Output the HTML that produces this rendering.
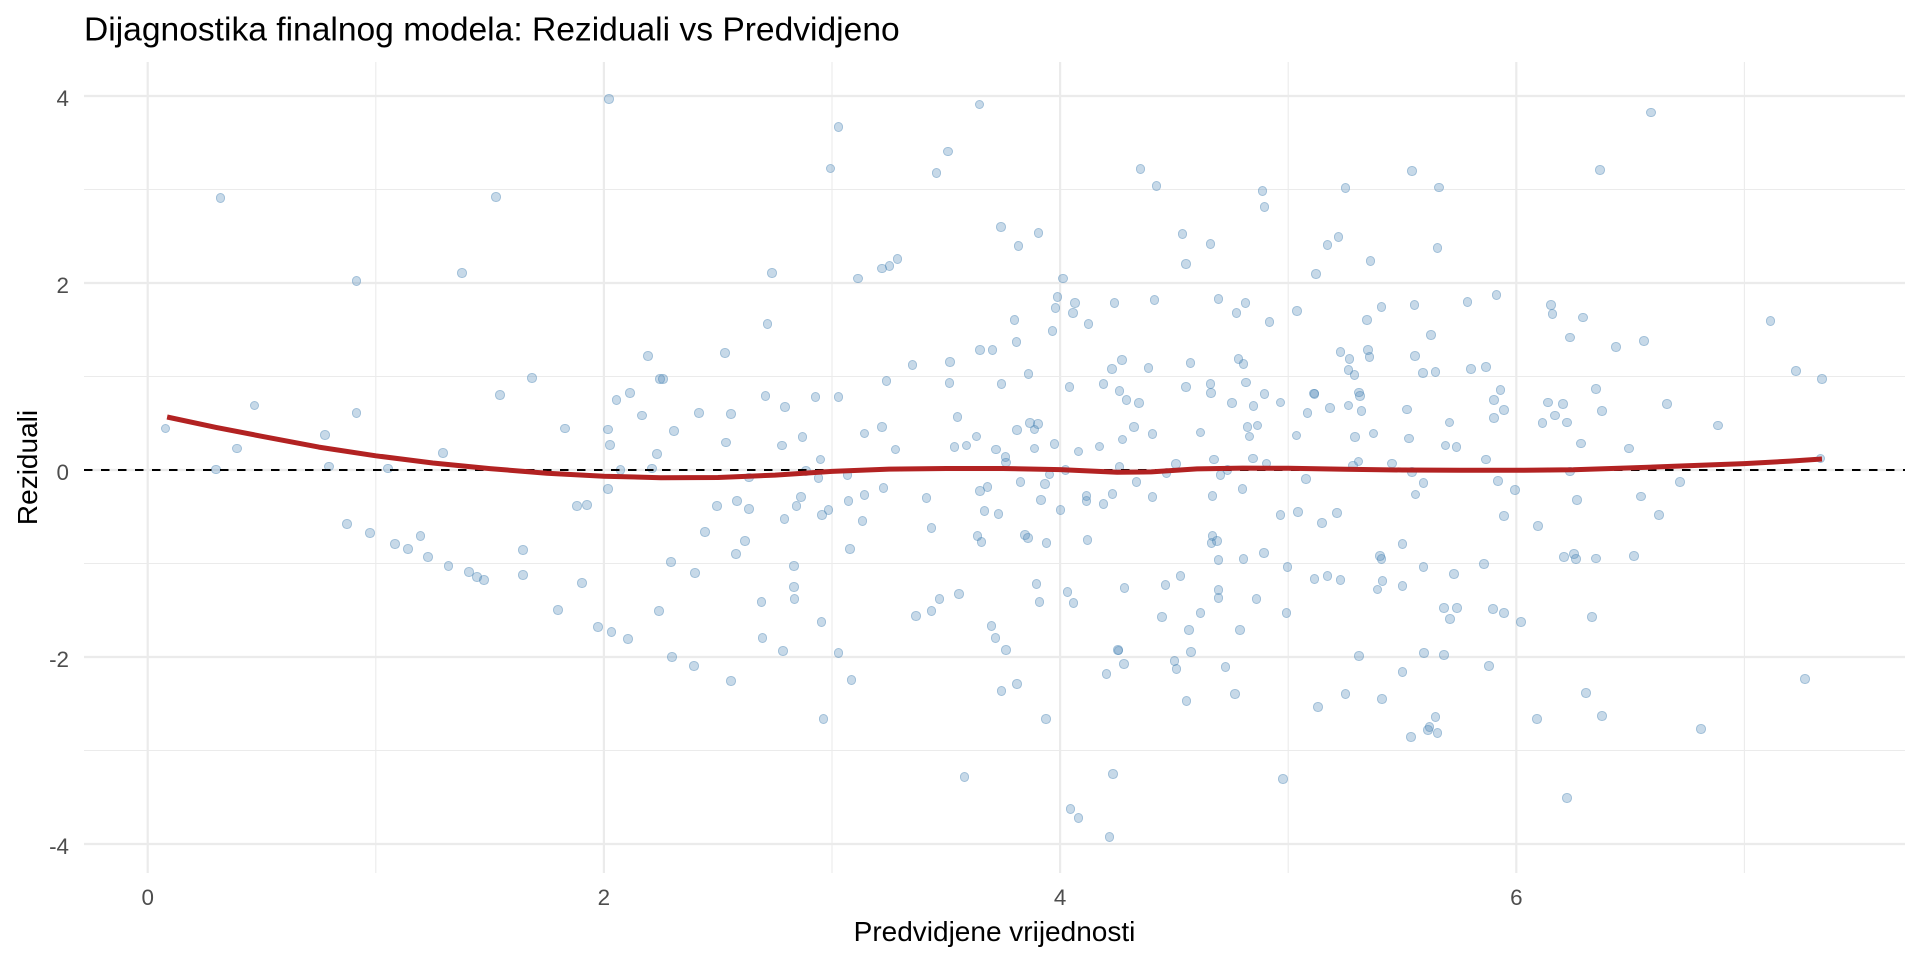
<!DOCTYPE html>
<html>
<head>
<meta charset="utf-8">
<style>
html,body{margin:0;padding:0;background:#fff;}
#wrap{position:relative;width:1920px;height:960px;overflow:hidden;background:#fff;}
svg{position:absolute;left:0;top:0;}
#pts i{position:absolute;display:block;box-sizing:border-box;width:9.6px;height:9.6px;margin:-4.8px 0 0 -4.8px;border-radius:50%;background:rgba(70,130,180,0.3);border:1.1px solid rgba(70,130,180,0.3);left:calc(147.7px + var(--x) * 228.1px);top:calc(470px - var(--y) * 93.5px);}
text{font-family:"Liberation Sans",Arial,sans-serif;}
</style>
</head>
<body>
<div id="wrap">
<svg width="1920" height="960" viewBox="0 0 1920 960">
  <!-- minor grid -->
  <g stroke="#EBEBEB" stroke-width="1.1" fill="none">
    <line x1="84" x2="1905" y1="189.5" y2="189.5"/>
    <line x1="84" x2="1905" y1="376.5" y2="376.5"/>
    <line x1="84" x2="1905" y1="563.5" y2="563.5"/>
    <line x1="84" x2="1905" y1="750.5" y2="750.5"/>
    <line x1="375.8" x2="375.8" y1="62" y2="873"/>
    <line x1="832" x2="832" y1="62" y2="873"/>
    <line x1="1288.2" x2="1288.2" y1="62" y2="873"/>
    <line x1="1744.4" x2="1744.4" y1="62" y2="873"/>
  </g>
  <!-- major grid -->
  <g stroke="#EBEBEB" stroke-width="2.2" fill="none">
    <line x1="84" x2="1905" y1="96" y2="96"/>
    <line x1="84" x2="1905" y1="283" y2="283"/>
    <line x1="84" x2="1905" y1="470" y2="470"/>
    <line x1="84" x2="1905" y1="657" y2="657"/>
    <line x1="84" x2="1905" y1="844" y2="844"/>
    <line x1="147.7" x2="147.7" y1="62" y2="873"/>
    <line x1="603.9" x2="603.9" y1="62" y2="873"/>
    <line x1="1060.1" x2="1060.1" y1="62" y2="873"/>
    <line x1="1516.3" x2="1516.3" y1="62" y2="873"/>
  </g>
  <!-- title -->
  <text x="84" y="40.5" font-size="33.6" fill="#000">Dijagnostika finalnog modela: Reziduali vs Predvidjeno</text>
  <!-- y tick labels -->
  <g font-size="22.4" fill="#4D4D4D" text-anchor="end">
    <text x="69" y="106">4</text>
    <text x="69" y="293">2</text>
    <text x="69" y="480">0</text>
    <text x="69" y="667">-2</text>
    <text x="69" y="854">-4</text>
  </g>
  <!-- x tick labels -->
  <g font-size="22.4" fill="#4D4D4D" text-anchor="middle">
    <text x="147.7" y="905">0</text>
    <text x="603.9" y="905">2</text>
    <text x="1060.1" y="905">4</text>
    <text x="1516.3" y="905">6</text>
  </g>
  <!-- axis titles -->
  <text x="994.5" y="941" font-size="28" fill="#000" text-anchor="middle">Predvidjene vrijednosti</text>
  <text transform="translate(37,467.5) rotate(-90)" x="0" y="0" font-size="28" fill="#000" text-anchor="middle">Reziduali</text>
</svg>

<div id="pts">
<i style="--x:.319;--y:2.908"></i><i style="--x:1.526;--y:2.919"></i><i style="--x:.916;--y:2.020"></i><i style="--x:1.377;--y:2.105"></i><i style="--x:2.022;--y:3.968"></i><i style="--x:2.193;--y:1.217"></i><i style="--x:2.531;--y:1.249"></i><i style="--x:1.684;--y:.981"></i><i style="--x:2.247;--y:.971"></i><i style="--x:2.259;--y:.971"></i><i style="--x:1.544;--y:.799"></i><i style="--x:2.114;--y:.821"></i><i style="--x:2.056;--y:.746"></i><i style="--x:.469;--y:.692"></i><i style="--x:.916;--y:.607"></i><i style="--x:2.167;--y:.585"></i><i style="--x:2.416;--y:.607"></i><i style="--x:2.556;--y:.596"></i><i style="--x:.078;--y:.446"></i><i style="--x:.776;--y:.375"></i><i style="--x:1.829;--y:.446"></i><i style="--x:2.017;--y:.435"></i><i style="--x:2.307;--y:.418"></i><i style="--x:.391;--y:.232"></i><i style="--x:2.027;--y:.268"></i><i style="--x:2.534;--y:.296"></i><i style="--x:1.294;--y:.182"></i><i style="--x:2.232;--y:.168"></i><i style="--x:.299;--y:.007"></i><i style="--x:.794;--y:.039"></i><i style="--x:1.053;--y:.014"></i><i style="--x:2.072;--y:0"></i><i style="--x:2.212;--y:.014"></i>
<i style="--x:2.017;--y:-.203"></i><i style="--x:1.882;--y:-.385"></i><i style="--x:1.927;--y:-.374"></i><i style="--x:2.495;--y:-.385"></i><i style="--x:2.584;--y:-.332"></i><i style="--x:2.637;--y:-.414"></i><i style="--x:2.637;--y:-.082"></i><i style="--x:.874;--y:-.578"></i><i style="--x:.974;--y:-.674"></i><i style="--x:1.084;--y:-.791"></i><i style="--x:1.142;--y:-.845"></i><i style="--x:1.196;--y:-.706"></i><i style="--x:1.229;--y:-.930"></i><i style="--x:1.319;--y:-1.027"></i><i style="--x:1.408;--y:-1.091"></i><i style="--x:1.444;--y:-1.144"></i><i style="--x:1.474;--y:-1.176"></i><i style="--x:1.645;--y:-.856"></i><i style="--x:1.645;--y:-1.123"></i><i style="--x:2.442;--y:-.663"></i><i style="--x:2.618;--y:-.759"></i><i style="--x:2.578;--y:-.898"></i><i style="--x:2.294;--y:-.984"></i><i style="--x:2.399;--y:-1.102"></i><i style="--x:1.903;--y:-1.209"></i><i style="--x:1.799;--y:-1.497"></i><i style="--x:2.241;--y:-1.508"></i><i style="--x:1.974;--y:-1.679"></i><i style="--x:2.034;--y:-1.733"></i><i style="--x:2.106;--y:-1.807"></i><i style="--x:2.299;--y:-2.0"></i><i style="--x:2.394;--y:-2.096"></i><i style="--x:2.556;--y:-2.257"></i>
<i style="--x:3.029;--y:3.668"></i><i style="--x:2.993;--y:3.226"></i><i style="--x:3.646;--y:3.911"></i><i style="--x:3.508;--y:3.408"></i><i style="--x:3.459;--y:3.176"></i><i style="--x:2.736;--y:2.105"></i><i style="--x:2.717;--y:1.559"></i><i style="--x:3.113;--y:2.048"></i><i style="--x:3.218;--y:2.155"></i><i style="--x:3.252;--y:2.180"></i><i style="--x:3.287;--y:2.255"></i><i style="--x:3.740;--y:2.598"></i><i style="--x:3.817;--y:2.394"></i><i style="--x:3.905;--y:2.533"></i><i style="--x:4.013;--y:2.048"></i><i style="--x:4.352;--y:3.219"></i><i style="--x:4.422;--y:3.037"></i><i style="--x:4.887;--y:2.983"></i><i style="--x:4.896;--y:2.812"></i><i style="--x:5.251;--y:3.015"></i><i style="--x:4.536;--y:2.523"></i><i style="--x:4.659;--y:2.416"></i><i style="--x:4.553;--y:2.202"></i><i style="--x:5.172;--y:2.405"></i><i style="--x:5.220;--y:2.491"></i><i style="--x:5.123;--y:2.095"></i><i style="--x:3.989;--y:1.848"></i><i style="--x:3.980;--y:1.731"></i><i style="--x:4.066;--y:1.784"></i><i style="--x:4.057;--y:1.677"></i><i style="--x:4.238;--y:1.784"></i><i style="--x:4.413;--y:1.816"></i><i style="--x:4.124;--y:1.563"></i><i style="--x:3.800;--y:1.606"></i><i style="--x:3.808;--y:1.367"></i><i style="--x:3.967;--y:1.484"></i><i style="--x:4.695;--y:1.827"></i><i style="--x:4.812;--y:1.784"></i><i style="--x:4.773;--y:1.677"></i><i style="--x:4.918;--y:1.581"></i><i style="--x:5.039;--y:1.699"></i><i style="--x:3.648;--y:1.285"></i><i style="--x:3.704;--y:1.285"></i><i style="--x:3.518;--y:1.153"></i><i style="--x:3.353;--y:1.120"></i><i style="--x:3.515;--y:.928"></i><i style="--x:3.239;--y:.949"></i><i style="--x:3.743;--y:.917"></i><i style="--x:3.861;--y:1.024"></i><i style="--x:4.041;--y:.885"></i><i style="--x:4.191;--y:.921"></i><i style="--x:4.227;--y:1.081"></i><i style="--x:4.271;--y:1.178"></i><i style="--x:4.387;--y:1.088"></i><i style="--x:4.571;--y:1.142"></i><i style="--x:4.782;--y:1.185"></i><i style="--x:4.804;--y:1.131"></i><i style="--x:4.816;--y:.938"></i><i style="--x:5.229;--y:1.260"></i><i style="--x:5.269;--y:1.185"></i><i style="--x:5.264;--y:1.070"></i><i style="--x:2.708;--y:.789"></i><i style="--x:2.794;--y:.671"></i><i style="--x:2.928;--y:.781"></i><i style="--x:3.029;--y:.781"></i><i style="--x:4.260;--y:.842"></i><i style="--x:4.291;--y:.746"></i><i style="--x:4.347;--y:.714"></i><i style="--x:4.553;--y:.885"></i><i style="--x:4.659;--y:.921"></i><i style="--x:4.662;--y:.821"></i><i style="--x:4.754;--y:.714"></i><i style="--x:4.848;--y:.682"></i><i style="--x:4.896;--y:.810"></i><i style="--x:4.966;--y:.724"></i><i style="--x:5.113;--y:.817"></i><i style="--x:5.116;--y:.810"></i><i style="--x:5.184;--y:.660"></i><i style="--x:5.264;--y:.692"></i><i style="--x:5.084;--y:.607"></i><i style="--x:3.551;--y:.567"></i><i style="--x:3.142;--y:.392"></i><i style="--x:3.218;--y:.457"></i><i style="--x:2.780;--y:.264"></i><i style="--x:2.870;--y:.350"></i><i style="--x:2.949;--y:.114"></i><i style="--x:3.278;--y:.221"></i><i style="--x:3.537;--y:.243"></i><i style="--x:3.590;--y:.264"></i><i style="--x:3.633;--y:.360"></i><i style="--x:3.720;--y:.221"></i><i style="--x:3.760;--y:.136"></i><i style="--x:3.764;--y:.082"></i><i style="--x:3.812;--y:.425"></i><i style="--x:3.868;--y:.500"></i><i style="--x:3.888;--y:.435"></i><i style="--x:3.902;--y:.489"></i><i style="--x:3.888;--y:.232"></i><i style="--x:3.975;--y:.275"></i><i style="--x:4.081;--y:.200"></i><i style="--x:4.173;--y:.253"></i><i style="--x:4.274;--y:.328"></i><i style="--x:4.325;--y:.457"></i><i style="--x:4.405;--y:.382"></i><i style="--x:4.615;--y:.403"></i><i style="--x:4.830;--y:.360"></i><i style="--x:4.821;--y:.457"></i><i style="--x:4.865;--y:.478"></i><i style="--x:5.036;--y:.371"></i><i style="--x:4.676;--y:.114"></i><i style="--x:4.845;--y:.125"></i><i style="--x:4.905;--y:.071"></i><i style="--x:4.507;--y:.061"></i><i style="--x:4.260;--y:.029"></i><i style="--x:4.023;--y:0"></i><i style="--x:2.886;--y:-.01"></i>
<i style="--x:2.940;--y:-.086"></i><i style="--x:3.068;--y:-.053"></i><i style="--x:2.864;--y:-.289"></i><i style="--x:2.845;--y:-.385"></i><i style="--x:2.792;--y:-.524"></i><i style="--x:2.957;--y:-.481"></i><i style="--x:2.985;--y:-.428"></i><i style="--x:3.073;--y:-.332"></i><i style="--x:3.142;--y:-.267"></i><i style="--x:3.225;--y:-.193"></i><i style="--x:3.133;--y:-.545"></i><i style="--x:3.078;--y:-.845"></i><i style="--x:3.414;--y:-.299"></i><i style="--x:3.436;--y:-.620"></i><i style="--x:3.648;--y:-.225"></i><i style="--x:3.682;--y:-.182"></i><i style="--x:3.669;--y:-.439"></i><i style="--x:3.730;--y:-.471"></i><i style="--x:3.638;--y:-.706"></i><i style="--x:3.656;--y:-.770"></i><i style="--x:3.827;--y:-.128"></i><i style="--x:3.933;--y:-.150"></i><i style="--x:3.953;--y:-.046"></i><i style="--x:3.917;--y:-.321"></i><i style="--x:3.847;--y:-.695"></i><i style="--x:3.858;--y:-.727"></i><i style="--x:3.941;--y:-.781"></i><i style="--x:4.001;--y:-.428"></i><i style="--x:4.115;--y:-.278"></i><i style="--x:4.115;--y:-.332"></i><i style="--x:4.190;--y:-.364"></i><i style="--x:4.230;--y:-.257"></i><i style="--x:4.120;--y:-.749"></i><i style="--x:4.335;--y:-.128"></i><i style="--x:4.405;--y:-.289"></i><i style="--x:4.466;--y:-.032"></i><i style="--x:4.668;--y:-.278"></i><i style="--x:4.704;--y:-.053"></i><i style="--x:4.734;--y:0"></i><i style="--x:4.799;--y:-.203"></i><i style="--x:4.668;--y:-.706"></i><i style="--x:4.663;--y:-.781"></i><i style="--x:4.688;--y:-.759"></i><i style="--x:4.695;--y:-.963"></i><i style="--x:4.804;--y:-.952"></i><i style="--x:4.893;--y:-.888"></i><i style="--x:4.966;--y:-.481"></i><i style="--x:5.044;--y:-.449"></i><i style="--x:5.077;--y:-.096"></i><i style="--x:5.148;--y:-.567"></i><i style="--x:5.215;--y:-.460"></i><i style="--x:4.997;--y:-1.037"></i><i style="--x:5.115;--y:-1.166"></i><i style="--x:5.172;--y:-1.134"></i><i style="--x:5.229;--y:-1.176"></i><i style="--x:2.833;--y:-1.027"></i><i style="--x:2.833;--y:-1.251"></i><i style="--x:2.836;--y:-1.380"></i><i style="--x:2.691;--y:-1.412"></i><i style="--x:2.696;--y:-1.797"></i><i style="--x:2.786;--y:-1.936"></i><i style="--x:2.954;--y:-1.626"></i><i style="--x:3.029;--y:-1.957"></i><i style="--x:3.085;--y:-2.246"></i><i style="--x:2.963;--y:-2.663"></i><i style="--x:3.367;--y:-1.561"></i><i style="--x:3.436;--y:-1.508"></i><i style="--x:3.471;--y:-1.380"></i><i style="--x:3.556;--y:-1.326"></i><i style="--x:3.897;--y:-1.219"></i><i style="--x:3.909;--y:-1.412"></i><i style="--x:4.032;--y:-1.305"></i><i style="--x:4.059;--y:-1.422"></i><i style="--x:4.282;--y:-1.262"></i><i style="--x:3.699;--y:-1.668"></i><i style="--x:3.716;--y:-1.797"></i><i style="--x:3.764;--y:-1.925"></i><i style="--x:3.743;--y:-2.364"></i><i style="--x:3.812;--y:-2.289"></i><i style="--x:3.939;--y:-2.663"></i><i style="--x:3.581;--y:-3.283"></i><i style="--x:4.045;--y:-3.626"></i><i style="--x:4.081;--y:-3.722"></i><i style="--x:4.216;--y:-3.925"></i><i style="--x:4.233;--y:-3.251"></i><i style="--x:4.253;--y:-1.925"></i><i style="--x:4.256;--y:-1.930"></i><i style="--x:4.281;--y:-2.075"></i><i style="--x:4.204;--y:-2.182"></i><i style="--x:4.462;--y:-1.230"></i><i style="--x:4.528;--y:-1.134"></i><i style="--x:4.447;--y:-1.572"></i><i style="--x:4.615;--y:-1.529"></i><i style="--x:4.564;--y:-1.711"></i><i style="--x:4.575;--y:-1.947"></i><i style="--x:4.502;--y:-2.043"></i><i style="--x:4.511;--y:-2.128"></i><i style="--x:4.726;--y:-2.107"></i><i style="--x:4.555;--y:-2.471"></i><i style="--x:4.768;--y:-2.396"></i><i style="--x:4.695;--y:-1.283"></i><i style="--x:4.695;--y:-1.369"></i><i style="--x:4.861;--y:-1.380"></i><i style="--x:4.788;--y:-1.711"></i><i style="--x:4.992;--y:-1.529"></i><i style="--x:4.978;--y:-3.305"></i><i style="--x:5.130;--y:-2.535"></i><i style="--x:5.251;--y:-2.396"></i>
<i style="--x:5.544;--y:3.197"></i><i style="--x:5.662;--y:3.022"></i><i style="--x:5.654;--y:2.373"></i><i style="--x:5.361;--y:2.234"></i><i style="--x:6.590;--y:3.825"></i><i style="--x:6.367;--y:3.208"></i><i style="--x:5.409;--y:1.741"></i><i style="--x:5.554;--y:1.763"></i><i style="--x:5.346;--y:1.606"></i><i style="--x:5.786;--y:1.795"></i><i style="--x:5.913;--y:1.870"></i><i style="--x:5.626;--y:1.442"></i><i style="--x:5.351;--y:1.285"></i><i style="--x:5.356;--y:1.206"></i><i style="--x:5.557;--y:1.217"></i><i style="--x:5.290;--y:1.013"></i><i style="--x:5.591;--y:1.035"></i><i style="--x:5.646;--y:1.046"></i><i style="--x:5.802;--y:1.078"></i><i style="--x:5.868;--y:1.099"></i><i style="--x:5.311;--y:.831"></i><i style="--x:5.316;--y:.789"></i><i style="--x:5.931;--y:.853"></i><i style="--x:5.903;--y:.746"></i><i style="--x:5.947;--y:.639"></i><i style="--x:5.903;--y:.553"></i><i style="--x:5.321;--y:.628"></i><i style="--x:5.522;--y:.649"></i><i style="--x:5.707;--y:.510"></i><i style="--x:5.293;--y:.350"></i><i style="--x:5.374;--y:.392"></i><i style="--x:5.530;--y:.339"></i><i style="--x:5.689;--y:.264"></i><i style="--x:5.738;--y:.243"></i><i style="--x:5.868;--y:.114"></i><i style="--x:5.308;--y:.093"></i><i style="--x:5.285;--y:.050"></i><i style="--x:5.456;--y:.071"></i><i style="--x:6.153;--y:1.763"></i><i style="--x:6.158;--y:1.666"></i><i style="--x:6.293;--y:1.631"></i><i style="--x:6.236;--y:1.417"></i><i style="--x:6.438;--y:1.313"></i><i style="--x:6.560;--y:1.377"></i><i style="--x:7.115;--y:1.591"></i><i style="--x:7.226;--y:1.056"></i><i style="--x:7.339;--y:.971"></i><i style="--x:6.349;--y:.864"></i><i style="--x:6.140;--y:.724"></i><i style="--x:6.206;--y:.703"></i><i style="--x:6.170;--y:.585"></i><i style="--x:6.376;--y:.628"></i><i style="--x:6.661;--y:.703"></i><i style="--x:6.114;--y:.500"></i><i style="--x:6.222;--y:.510"></i><i style="--x:6.283;--y:.285"></i><i style="--x:6.494;--y:.232"></i><i style="--x:6.885;--y:.478"></i><i style="--x:7.334;--y:.125"></i>
<i style="--x:5.544;--y:-.021"></i><i style="--x:5.593;--y:-.139"></i><i style="--x:5.558;--y:-.260"></i><i style="--x:5.921;--y:-.118"></i><i style="--x:5.995;--y:-.214"></i><i style="--x:5.947;--y:-.492"></i><i style="--x:6.096;--y:-.599"></i><i style="--x:6.236;--y:-.014"></i><i style="--x:6.267;--y:-.321"></i><i style="--x:6.547;--y:-.282"></i><i style="--x:6.626;--y:-.481"></i><i style="--x:6.718;--y:-.128"></i><i style="--x:5.501;--y:-.791"></i><i style="--x:5.402;--y:-.920"></i><i style="--x:5.409;--y:-.955"></i><i style="--x:5.593;--y:-1.037"></i><i style="--x:5.414;--y:-1.187"></i><i style="--x:5.391;--y:-1.276"></i><i style="--x:5.501;--y:-1.241"></i><i style="--x:5.728;--y:-1.112"></i><i style="--x:5.858;--y:-1.005"></i><i style="--x:5.684;--y:-1.476"></i><i style="--x:5.741;--y:-1.476"></i><i style="--x:5.710;--y:-1.594"></i><i style="--x:5.898;--y:-1.487"></i><i style="--x:5.947;--y:-1.529"></i><i style="--x:6.021;--y:-1.626"></i><i style="--x:6.209;--y:-.930"></i><i style="--x:6.254;--y:-.898"></i><i style="--x:6.262;--y:-.955"></i><i style="--x:6.349;--y:-.945"></i><i style="--x:6.516;--y:-.920"></i><i style="--x:6.333;--y:-1.572"></i><i style="--x:5.311;--y:-1.989"></i><i style="--x:5.596;--y:-1.957"></i><i style="--x:5.684;--y:-1.979"></i><i style="--x:5.501;--y:-2.160"></i><i style="--x:5.881;--y:-2.096"></i><i style="--x:5.412;--y:-2.449"></i><i style="--x:5.646;--y:-2.642"></i><i style="--x:5.620;--y:-2.749"></i><i style="--x:5.613;--y:-2.781"></i><i style="--x:5.654;--y:-2.813"></i><i style="--x:5.539;--y:-2.856"></i><i style="--x:6.091;--y:-2.663"></i><i style="--x:6.305;--y:-2.385"></i><i style="--x:6.376;--y:-2.631"></i><i style="--x:6.809;--y:-2.770"></i><i style="--x:6.222;--y:-3.508"></i><i style="--x:7.265;--y:-2.235"></i>
</div>

<svg width="1920" height="960" viewBox="0 0 1920 960">
  <line x1="84" x2="1905" y1="470" y2="470" stroke="#000" stroke-width="2.1" stroke-dasharray="8.5 8.5"/>
  <polyline fill="none" stroke="#B22222" stroke-width="5" stroke-linejoin="round" points="167.1,417.0 216.1,427.4 261.8,436.3 318.8,447.1 375.8,455.8 432.8,463.0 489.9,468.6 546.9,473.3 603.9,476.2 660.9,477.7 718.0,477.5 775.0,475.1 832.0,471.4 889.0,469.1 946.1,468.5 1003.1,468.5 1060.1,469.6 1117.1,472.3 1151.3,471.9 1197.0,468.9 1242.6,468.1 1288.2,468.3 1345.2,469.3 1402.3,470.0 1459.3,470.3 1516.3,470.3 1573.3,469.8 1630.4,467.9 1687.4,465.8 1744.4,463.6 1790.0,461.1 1822.0,459.0"/>
</svg>
</div>
</body>
</html>
